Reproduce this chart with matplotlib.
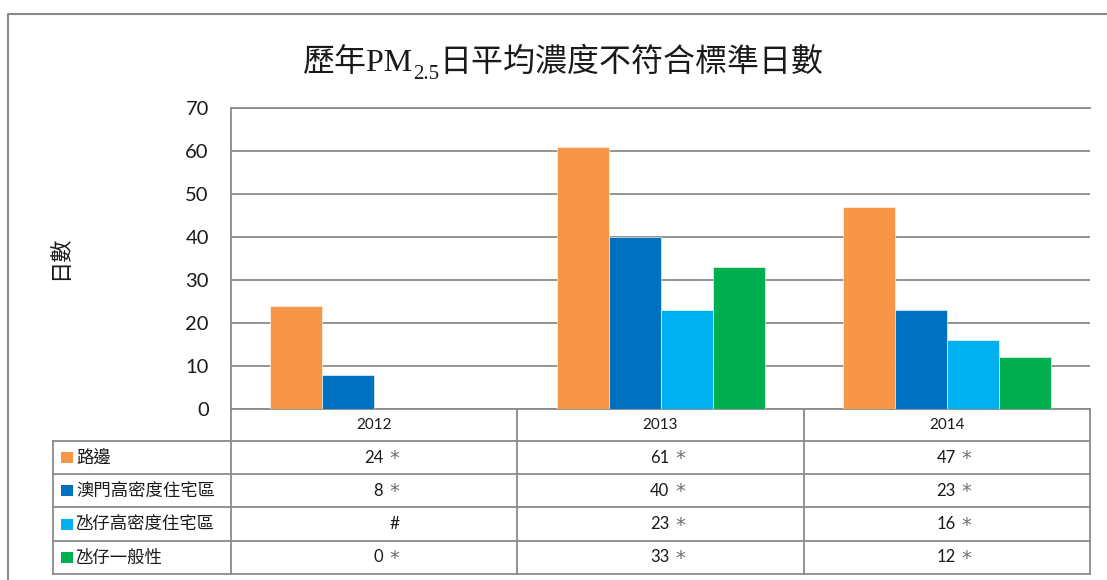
import numpy as np
import matplotlib
matplotlib.use('Agg')
import matplotlib.pyplot as plt
from matplotlib.lines import Line2D
from matplotlib.patches import Rectangle
from matplotlib.transforms import blended_transform_factory

plt.rcParams['font.family'] = ['Lato', 'Noto Sans CJK TC', 'DejaVu Sans']

years = ['2012', '2013', '2014']
series = ['路邊', '澳門高密度住宅區', '氹仔高密度住宅區', '氹仔一般性']
roadside = [24, 61, 47]
macau_high = [8, 40, 23]
taipa_high = [None, 23, 16]      # no data in 2012 -> '#'
taipa_general = [0, 33, 12]
colors = ['#F79646', '#0070C0', '#00B0F0', '#00B050']
yticks = [0, 10, 20, 30, 40, 50, 60, 70]

INK, GRID, STAR = '#1a1a1a', '#8a8a8a', '#6e6e6e'

# layout in pixels of the 1107x580 canvas
W, H = 1107, 580
AX_L, AX_R, AX_T, AX_B = 231, 1090, 108, 409
LEG_L = 53
HEADER_H, ROW_H = 32, 33.2

fig = plt.figure(figsize=(W / 100, H / 100), dpi=100)
ax = fig.add_axes([AX_L / W, 1 - AX_B / H, (AX_R - AX_L) / W, (AX_B - AX_T) / H])

px_x = (AX_R - AX_L) / len(years)       # pixels per category
px_y = AX_B - AX_T

all_vals = [roadside, macau_high, taipa_high, taipa_general]
x = np.arange(len(years))
bw = 52 / px_x
n = len(series)
for k, (vals, col) in enumerate(zip(all_vals, colors)):
    h = [np.nan if v is None else v for v in vals]
    ax.bar(x + (k - (n - 1) / 2) * bw, h, bw, color=col,
           edgecolor='white', linewidth=0.4, zorder=3)

ax.set_xlim(-0.5, len(years) - 0.5)
ax.set_ylim(0, 70)
ax.set_yticks(yticks)
ax.set_xticks([])
ax.yaxis.grid(True, color=GRID, lw=1.3)
ax.set_axisbelow(True)
ax.spines['right'].set_visible(False)
for s in ('left', 'top', 'bottom'):
    ax.spines[s].set_color(GRID)
    ax.spines[s].set_linewidth(1.3)
ax.tick_params(axis='y', length=0, pad=16, labelsize=14.5, labelcolor=INK)

# data table under the axis
tr = blended_transform_factory(ax.transData, ax.transAxes)
def ay(px):
    return -px / px_y
def dx(px):
    return px / px_x

x_left = -0.5
x_right = len(years) - 0.5
x_leg = x_left - dx(AX_L - LEG_L)
row_edges = [0, HEADER_H] + [HEADER_H + ROW_H * (i + 1) for i in range(n)]
line_kw = dict(color=GRID, lw=1.3, transform=tr, clip_on=False)
for i, r in enumerate(row_edges[1:]):
    ax.plot([x_leg, x_right], [ay(r), ay(r)], **line_kw)
for xb in np.arange(len(years) + 1) - 0.5:
    ax.plot([xb, xb], [0, ay(row_edges[-1])], **line_kw)
ax.plot([x_leg, x_leg], [ay(HEADER_H), ay(row_edges[-1])], **line_kw)

hy = ay(HEADER_H / 2)
for i, yr in enumerate(years):
    ax.text(i, hy, yr, transform=tr, ha='center', va='center',
            fontsize=11, color=INK)

for r, (name, vals, col) in enumerate(zip(series, all_vals, colors)):
    cy = ay(HEADER_H + ROW_H * (r + 0.5))
    ax.add_patch(Rectangle((x_leg + dx(8), cy - 5.5 / px_y), dx(11.5), 11 / px_y,
                           facecolor=col, edgecolor='none', transform=tr,
                           clip_on=False))
    ax.text(x_leg + dx(23), cy, name, transform=tr, ha='left', va='center',
            fontsize=12.5, color=INK)
    for i, v in enumerate(vals):
        if v is None:
            ax.text(i + dx(20), cy, '#', transform=tr, ha='center',
                    va='center', fontsize=12.5, color=INK)
            continue
        ax.text(i + dx(9), cy, str(v), transform=tr, ha='right',
                va='center', fontsize=12, color=INK)
        ax.text(i + dx(15), cy - 1 / px_y, '*', transform=tr, ha='left',
                va='center', fontsize=14, color=STAR, family='DejaVu Sans')

# y label
fig.text(60 / W, 1 - 258 / H, '日數', rotation=90, fontsize=16,
         ha='center', va='center', color=INK, family='Noto Sans CJK TC',
         fontweight='light')

# title with subscript
yb = 1 - 71 / H
t1 = fig.text(303 / W, yb, '歷年PM', fontsize=23, color=INK,
              family=['Liberation Serif', 'Noto Sans CJK TC'],
              ha='left', va='baseline')
t2 = ax.annotate('2.5', xy=(1, 1 - 79 / H), xycoords=(t1, 'figure fraction'),
                 fontsize=15, color=INK, family='Liberation Serif',
                 ha='left', va='baseline', annotation_clip=False)
ax.annotate('日平均濃度不符合標準日數', xy=(1, yb),
            xycoords=(t2, 'figure fraction'), fontsize=23, color=INK,
            family='Noto Sans CJK TC', ha='left', va='baseline',
            annotation_clip=False)

# outer chart border (left and top visible)
fig.add_artist(Line2D([8 / W, 8 / W, 1], [0, 1 - 14 / H, 1 - 14 / H],
                      transform=fig.transFigure, color=GRID, lw=1.5))

fig.savefig('out.png', dpi=100)
